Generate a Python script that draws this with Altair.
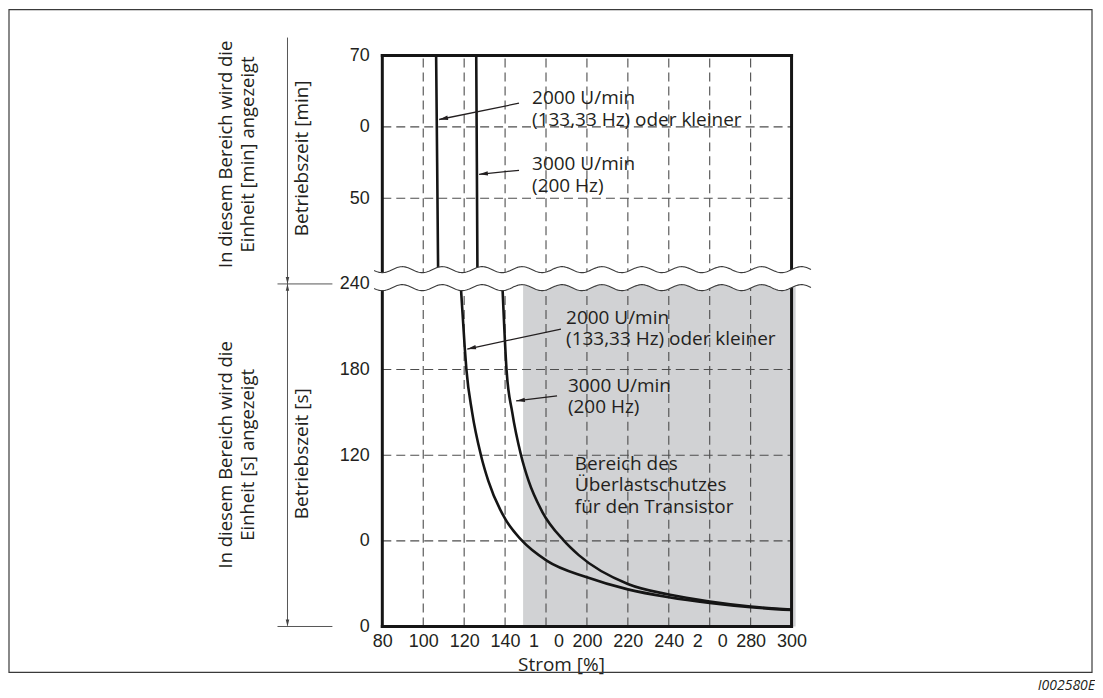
import math
import altair as alt
import numpy as np
import pandas as pd

# ---------------- data ----------------
NB = "\u00a0"
# x axis (grid positions 100..300, printed labels as in the figure)
x_ticks = [100, 120, 140, 160, 180, 200, 220, 240, 260, 280, 300]
x_labels = ["80", "100", "120", "140", "1" + NB * 3 + "0", "200", "220", "240", "2" + NB * 3 + "0", "280", "300"]

# broken y axis: seconds below (0..240), minutes above (mapped: v = 50 + 5*min)
y_ticks = [0, 60, 120, 180, 240, 300, 350, 400]
y_labels = ["0", "0", "120", "180", "240", "50", "0", "70"]

# upper panel (minutes)
top_2000_x = [126.3, 126.8, 127.3]
top_2000_min = [70, 55, 39]
top_3000_x = [145.9, 146.2, 146.5]
top_3000_min = [70, 55, 39]

# lower panel (seconds)
bot_2000_x = [138.2, 140.3, 141.1, 143.9, 148.2, 151.8, 160.2, 167.7, 180.5, 200.0, 220.0, 240.0, 260.0, 280.0, 300.0]
bot_2000_s = [242, 195, 180, 150, 120, 102, 75, 61, 46, 34.5, 26.0, 20.5, 16.5, 13.5, 11.5]
bot_3000_x = [158.6, 160.7, 163.5, 167.8, 171.5, 178.3, 188.5, 196.0, 220.0, 240.0, 260.0, 280.0, 300.0]
bot_3000_s = [242, 180, 150, 120, 102, 80, 60.5, 50, 29.8, 22.4, 17.5, 14.0, 11.8]

shade_x = [168.8, 302.0]

grid_x = [120, 140, 160, 180, 200, 220, 240, 260, 280]
grid_y = [60, 120, 180, 300, 350]

PX_X = 410 / 200.0   # px per x unit
PX_Y = 572 / 400.0   # px per y unit

def to_v(minutes):
    return [50 + 5 * m for m in minutes]

curves = pd.concat([
    pd.DataFrame({"x": top_2000_x, "y": to_v(top_2000_min), "c": "t2000"}),
    pd.DataFrame({"x": top_3000_x, "y": to_v(top_3000_min), "c": "t3000"}),
    pd.DataFrame({"x": bot_2000_x, "y": bot_2000_s, "c": "b2000"}),
    pd.DataFrame({"x": bot_3000_x, "y": bot_3000_s, "c": "b3000"}),
])

# annotations (multi-line blocks, position of first line)
ann_text = ["2000 U/min\n(133,33 Hz) oder kleiner", "3000 U/min\n(200 Hz)",
            "2000 U/min\n(133,33 Hz) oder kleiner", "3000 U/min\n(200 Hz)",
            "Bereich des\nÜberlastschutzes\nfür den Transistor"]
ann_x = [173.2, 173.2, 189.8, 190.7, 194.1]
ann_y = [369.9, 323.8, 216.1, 168.5, 114.0]

arrow_x1 = [166.8, 166.8, 187.3, 185.4]
arrow_y1 = [366.6, 319.6, 208.4, 161.5]
arrow_x2 = [127.8, 147.3, 141.5, 165.4]
arrow_y2 = [355.2, 316.8, 194.4, 158.0]

# ---------------- derived tables ----------------
def label_expr(vals, labs):
    expr = "''"
    for v, l in reversed(list(zip(vals, labs))):
        expr = f"datum.value == {v} ? '{l}' : ({expr})"
    return expr

SX = alt.Scale(domain=[100, 300], nice=False, zero=False)
SY = alt.Scale(domain=[0, 400], nice=False, zero=False)

TXT = "#231f20"
FONT = "Open Sans"
AFONT = "Liberation Sans"

AX = alt.Axis(values=x_ticks, labelExpr=label_expr(x_ticks, x_labels), ticks=False, domain=False,
              grid=False, labelFontSize=18, labelFont=AFONT, labelColor=TXT, labelPadding=6,
              labelFlush=False, labelOverlap=False, title=None)
AY = alt.Axis(values=y_ticks, labelExpr=label_expr(y_ticks, y_labels), ticks=False, domain=False,
              grid=False, labelFontSize=18, labelFont=AFONT, labelColor=TXT, labelPadding=13,
              labelFlush=False, labelOverlap=False, title=None)

def X(f="x"):
    return alt.X(f + ":Q", scale=SX, axis=AX, title=None)

def Y(f="y"):
    return alt.Y(f + ":Q", scale=SY, axis=AY, title=None)

shade_df = pd.DataFrame({"x": [shade_x[0]], "x2": [shade_x[1]], "y": [0], "y2": [244]})

grid_rows = [{"x": g, "x2": g, "y": 0, "y2": 400} for g in grid_x] + \
            [{"x": 100, "x2": 300, "y": g, "y2": g} for g in grid_y]
grid_df = pd.DataFrame(grid_rows)

border_df = pd.DataFrame([
    {"x": 100, "x2": 100, "y": 0, "y2": 400},
    {"x": 300, "x2": 300, "y": 0, "y2": 400},
    {"x": 100, "x2": 300, "y": 400, "y2": 400},
    {"x": 100, "x2": 300, "y": 0, "y2": 0},
])

# break symbol (two wavy lines, white gap between)
wx = np.linspace(96.0, 309.5, 400)
period = 40.0 / PX_X
amp = 3.0 / PX_Y
phase = np.cos(2 * np.pi * (wx - 100) / period)
upper = 250.0 - amp * phase
lower = 237.4 - amp * phase
band_df = pd.DataFrame({"x": wx, "y": lower, "y2": upper})
wave_df = pd.concat([
    pd.DataFrame({"x": wx, "y": upper, "w": "u"}),
    pd.DataFrame({"x": wx, "y": lower, "w": "l"}),
])

arr_df = pd.DataFrame({"x": arrow_x1, "y": arrow_y1, "x2": arrow_x2, "y2": arrow_y2})
angles = []
for a, b, c, d in zip(arrow_x1, arrow_y1, arrow_x2, arrow_y2):
    dx = (c - a) * PX_X
    dy = -(d - b) * PX_Y
    angles.append(math.degrees(math.atan2(dx, -dy)) % 360)
head_df = pd.DataFrame({"x": arrow_x2, "y": arrow_y2, "ang": angles})

ann_df = pd.DataFrame({"x": ann_x, "y": ann_y, "t": ann_text})

HEAD = "M0,0L-0.55,2.2L0.55,2.2Z"

# ---------------- layers ----------------
shade = alt.Chart(shade_df).mark_rect(color="#d1d2d4").encode(
    x=X(), x2="x2:Q", y=Y(), y2="y2:Q")

grid = alt.Chart(grid_df).mark_rule(color="#4d4d4d", strokeWidth=1.1, strokeDash=[9, 5]).encode(
    x=X(), x2="x2:Q", y=Y(), y2="y2:Q")

lines = alt.Chart(curves).mark_line(color="#151515", strokeWidth=2.6, interpolate="monotone").encode(
    x=X(), y=Y(), detail="c:N")

border = alt.Chart(border_df).mark_rule(color="#151515", strokeWidth=3, strokeCap="square").encode(
    x=X(), x2="x2:Q", y=Y(), y2="y2:Q")

band = alt.Chart(band_df).mark_area(color="white", opacity=1).encode(
    x=X(), y=Y(), y2="y2:Q")

waves = alt.Chart(wave_df).mark_line(color="#3a3a3a", strokeWidth=1.1).encode(
    x=X(), y=Y(), detail="w:N")

arrows = alt.Chart(arr_df).mark_rule(color=TXT, strokeWidth=1.3).encode(
    x=X(), x2="x2:Q", y=Y(), y2="y2:Q")

heads = alt.Chart(head_df).mark_point(shape=HEAD, filled=True, color=TXT, size=64, opacity=1).encode(
    x=X(), y=Y(), angle=alt.Angle("ang:Q", scale=None))

ann = alt.Chart(ann_df).mark_text(align="left", baseline="middle", font=FONT, fontSize=19,
                                  color=TXT, lineBreak="\n", lineHeight=21.5).encode(
    x=X(), y=Y(), text="t:N")

# left side dimension lines and texts (pixel offsets from plot origin)
dim_v = alt.Chart(pd.DataFrame({"y": [0]})).mark_rule(color="#555555", strokeWidth=1).encode(
    x=alt.value(-95), y=alt.value(-18), y2=alt.value(571))
dim_h = alt.Chart(pd.DataFrame({"y": [240, 0]})).mark_rule(color="#555555", strokeWidth=1).encode(
    x=alt.value(-105), x2=alt.value(-50), y=Y())
dim_heads = alt.Chart(pd.DataFrame({"y": [240, 240, 0], "ang": [180, 0, 180]})).mark_point(
    shape=HEAD, filled=True, color="#444444", size=40, opacity=1).encode(
    x=alt.value(-95), y=Y(), angle=alt.Angle("ang:Q", scale=None))

def rtext(t, x, y, size=19):
    return alt.Chart(pd.DataFrame({"t": [t]})).mark_text(
        angle=270, align="center", baseline="middle", font=FONT, fontSize=size, color=TXT,
        lineBreak="\n", lineHeight=22).encode(
        x=alt.value(x), y=alt.value(y), text="t:N")

side = [
    rtext("Betriebszeit [min]", -80, 103),
    rtext("Betriebszeit [s]", -80, 399),
    rtext("In diesem Bereich wird die\nEinheit [min] angezeigt", -157, 99, 18.5),
    rtext("In diesem Bereich wird die\nEinheit [s] angezeigt", -157, 400, 18.5),
]

xtitle = alt.Chart(pd.DataFrame({"t": ["Strom [%]"]})).mark_text(
    align="center", baseline="middle", font=FONT, fontSize=19, color=TXT).encode(
    x=alt.value(179.5), y=alt.value(611), text="t:N")

fig_id = alt.Chart(pd.DataFrame({"t": ["I002580E"]})).mark_text(
    align="right", baseline="middle", font=FONT, fontSize=14, fontStyle="italic", color=TXT).encode(
    x=alt.value(714), y=alt.value(632), text="t:N")

frame = alt.Chart(pd.DataFrame({"t": [0]})).mark_rect(filled=False, stroke="#3a3a3a", strokeWidth=1.2).encode(
    x=alt.value(-374), x2=alt.value(711), y=alt.value(-46), y2=alt.value(618))

chart = alt.layer(
    shade, grid, lines, border, band, waves, arrows, heads, ann,
    dim_v, dim_h, dim_heads, *side, xtitle, fig_id, frame,
).properties(width=410, height=572, padding=0).configure_view(stroke=None)

chart.save("out.html", embed_options={"renderer": "svg", "actions": False})
